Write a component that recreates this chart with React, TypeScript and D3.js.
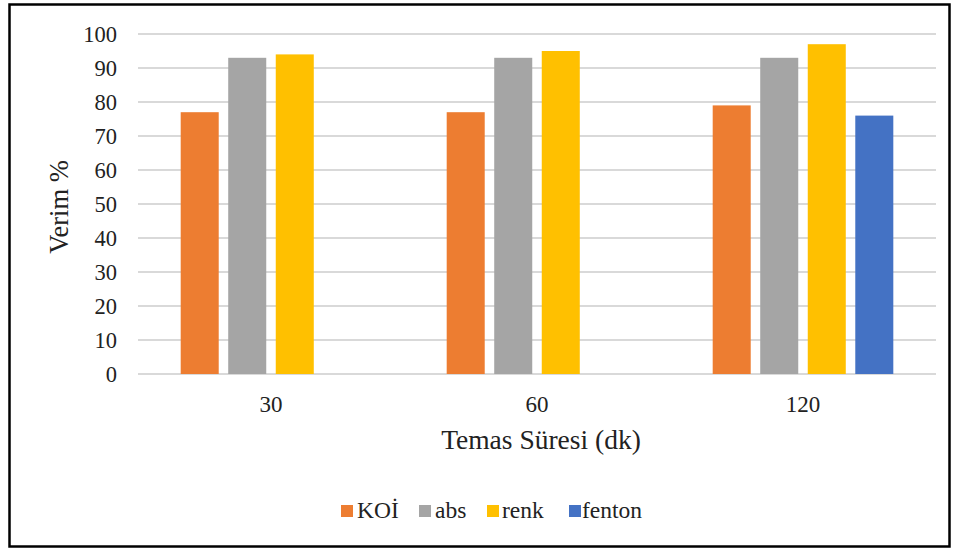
import React from "react";
import * as d3 from "d3";

// Contact time categories (minutes)
const categories = ["30", "60", "120"];
// Series names and colours
const seriesNames = ["KOİ", "abs", "renk", "fenton"];
const seriesColors = ["#ED7D31", "#A5A5A5", "#FFC000", "#4472C4"];
// Removal efficiency (%) per series, one value per category
const koiValues = [77, 77, 79];
const absValues = [93, 93, 93];
const renkValues = [94, 95, 97];
const fentonValues: (number | null)[] = [null, null, 76];
const yTicks = [0, 10, 20, 30, 40, 50, 60, 70, 80, 90, 100];

const seriesValues = [koiValues, absValues, renkValues, fentonValues];

const W = 958;
const H = 550;
const FONT = "Liberation Serif";

export default function App() {
  const plotLeft = 138;
  const plotRight = 936;
  const y = d3.scaleLinear().domain([0, 100]).range([374, 34]);
  const x = d3.scaleBand<string>().domain(categories).range([plotLeft, plotRight]);
  const gw = x.bandwidth();
  const inner = d3
    .scaleBand<string>()
    .domain(seriesNames)
    .range([gw * 0.1605, gw * 0.8395])
    .paddingInner(0.2)
    .paddingOuter(0);

  const legendItems = [
    { sx: 341, tx: 357 },
    { sx: 419, tx: 435 },
    { sx: 487, tx: 502 },
    { sx: 569, tx: 582 },
  ];

  const ts = { fontFamily: FONT };

  return (
    <svg width={W} height={H} style={{ position: "absolute", left: 0, top: 0, background: "#fff" }}>
      <rect x={0} y={0} width={W} height={H} fill="#fff" />
      <rect x={9.5} y={4.5} width={940} height={542} fill="none" stroke="#000" strokeWidth={2.5} />

      {/* gridlines */}
      {yTicks.map((t) => (
        <line key={t} x1={plotLeft} x2={plotRight} y1={y(t)} y2={y(t)} stroke="#d9d9d9" strokeWidth={2} />
      ))}

      {/* y tick labels */}
      {yTicks.map((t) => (
        <text key={"l" + t} x={117} y={y(t) + 8} textAnchor="end" fontSize={22.5} fill="#222" style={ts}>
          {t}
        </text>
      ))}

      {/* bars */}
      {categories.map((c, ci) =>
        seriesNames.map((s, si) => {
          const v = seriesValues[si][ci];
          if (v == null) return null;
          const bx = (x(c) as number) + (inner(s) as number);
          return (
            <rect
              key={c + s}
              x={bx}
              y={y(v)}
              width={inner.bandwidth()}
              height={y(0) - y(v)}
              fill={seriesColors[si]}
            />
          );
        })
      )}

      {/* x tick labels */}
      {categories.map((c) => (
        <text
          key={"x" + c}
          x={(x(c) as number) + gw / 2}
          y={411.5}
          textAnchor="middle"
          fontSize={23}
          fill="#222"
          style={ts}
        >
          {c}
        </text>
      ))}

      {/* axis titles */}
      <text x={541} y={449} textAnchor="middle" fontSize={27.5} fill="#222" style={ts}>
        Temas Süresi (dk)
      </text>
      <text
        transform={`translate(68, 207) rotate(-90)`}
        textAnchor="middle"
        fontSize={26.5}
        fill="#222"
        style={ts}
      >
        Verim %
      </text>

      {/* legend */}
      {seriesNames.map((s, i) => (
        <g key={"lg" + s}>
          <rect x={legendItems[i].sx} y={505} width={12} height={12} fill={seriesColors[i]} />
          <text x={legendItems[i].tx} y={518} fontSize={23.5} fill="#222" style={ts}>
            {s}
          </text>
        </g>
      ))}
    </svg>
  );
}
